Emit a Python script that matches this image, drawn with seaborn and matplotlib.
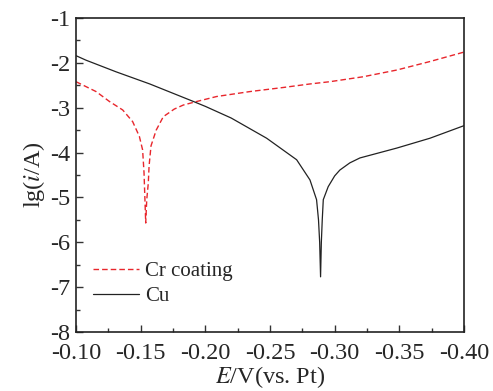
import matplotlib
matplotlib.use("Agg")
import matplotlib.pyplot as plt
import seaborn as sns
import pandas as pd
from matplotlib.ticker import MultipleLocator, FormatStrFormatter

sns.set_theme(style="ticks")
plt.rcParams['font.family'] = ['Liberation Serif', 'DejaVu Serif']
plt.rcParams['mathtext.fontset'] = 'stix'
plt.rcParams['axes.unicode_minus'] = False

# Cr coating (red dashed)
cr_E = [-0.1000, -0.1155, -0.1258, -0.1361, -0.1438, -0.1490, -0.1515, -0.1526, -0.1533, -0.1539,
        -0.1547, -0.1559, -0.1565, -0.1580, -0.1620, -0.1675, -0.1760, -0.1830, -0.1935, -0.2088,
        -0.2345, -0.2600, -0.2810, -0.2963, -0.3220, -0.3480, -0.3737, -0.4000]
cr_lg = [-2.42, -2.64, -2.86, -3.05, -3.31, -3.64, -3.94, -4.45, -5.05, -5.57,
         -5.05, -4.68, -4.30, -3.85, -3.50, -3.20, -3.03, -2.94, -2.86, -2.75,
         -2.64, -2.55, -2.47, -2.42, -2.31, -2.16, -1.97, -1.76]

# Cu (black solid)
cu_E = [-0.1000, -0.1077, -0.1310, -0.1570, -0.1907, -0.2000, -0.2200, -0.2474, -0.2706, -0.2809,
        -0.2860, -0.2875, -0.2884, -0.2891, -0.2897, -0.2904, -0.2912, -0.2950, -0.3000, -0.3040,
        -0.3117, -0.3195, -0.3480, -0.3737, -0.4000]
cu_lg = [-1.84, -1.94, -2.20, -2.47, -2.86, -2.97, -3.23, -3.68, -4.16, -4.61,
         -5.05, -5.50, -6.00, -6.77, -6.00, -5.50, -5.05, -4.76, -4.52, -4.39,
         -4.23, -4.12, -3.90, -3.68, -3.40]

fig = plt.figure(figsize=(4.93, 3.91), dpi=100)
ax = fig.add_axes([76/493, (391-332)/391, 388/493, 314/391])

df_cr = pd.DataFrame({"E": cr_E, "lg": cr_lg})
df_cu = pd.DataFrame({"E": cu_E, "lg": cu_lg})
sns.lineplot(data=df_cr, x="E", y="lg", sort=False, ax=ax, color="#e8262c",
             linestyle=(0, (4, 2.2)), linewidth=1.0, label="Cr coating")
sns.lineplot(data=df_cu, x="E", y="lg", sort=False, ax=ax, color="#222222",
             linewidth=0.9, label="Cu")

ax.set_xlim(-0.10, -0.40)
ax.set_ylim(-8, -1)
ax.xaxis.set_major_locator(MultipleLocator(0.05))
ax.xaxis.set_minor_locator(MultipleLocator(0.025))
ax.yaxis.set_major_locator(MultipleLocator(1))
ax.yaxis.set_minor_locator(MultipleLocator(0.5))
ax.xaxis.set_major_formatter(FormatStrFormatter('%.2f'))
ax.yaxis.set_major_formatter(FormatStrFormatter('%d'))
ax.tick_params(which='both', direction='in', top=False, right=False, labelsize=17.5, color='#333333')
ax.tick_params(axis='x', which='major', pad=8)
ax.tick_params(axis='y', which='major', pad=4)
ax.tick_params(which='major', length=5, width=1)
ax.tick_params(which='minor', length=3, width=1)
for s in ax.spines.values():
    s.set_linewidth(1.2)
    s.set_color('#222222')

ax.set_xlabel(r"$E$/V(vs. Pt)", fontsize=17.5, labelpad=0)
ax.set_ylabel(r"lg($i$/A)", fontsize=17.5, labelpad=2)

leg = ax.legend(loc="lower left", bbox_to_anchor=(0.0, 0.03), frameon=False, fontsize=15,
                handlelength=2.2, handletextpad=0.3, labelspacing=0.25, borderaxespad=0.4)

fig.savefig("out.png", dpi=100)
